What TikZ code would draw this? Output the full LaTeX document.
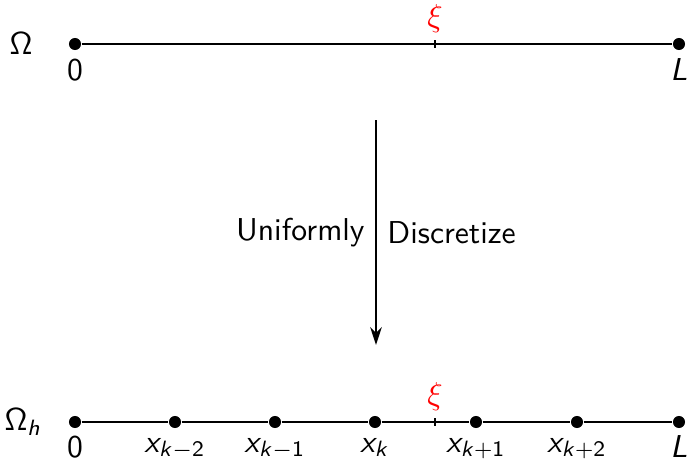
\documentclass[tikz,border=0pt]{standalone}
\usetikzlibrary{positioning, arrows.meta}
% sans serif math letters
\DeclareSymbolFont{operators}{OT1}{cmss}{m}{n}
\DeclareSymbolFont{sfit}{OT1}{cmss}{m}{sl}
\DeclareMathSymbol{x}{\mathalpha}{sfit}{`x}
\DeclareMathSymbol{k}{\mathalpha}{sfit}{`k}
\DeclareMathSymbol{h}{\mathalpha}{sfit}{`h}
\DeclareMathSymbol{L}{\mathalpha}{sfit}{`L}

\begin{document}
\begin{tikzpicture}[
  x=0.316pt, y=-0.316pt,
  font=\sffamily,
  pt/.style={circle, fill, inner sep=0pt, minimum size=3.8pt},
  lab/.style={anchor=base, inner sep=0pt},
  seg/.style={thick},
  tick/.style={semithick},
  arr/.style={-{Stealth[length=2mm, width=1.3mm]}, semithick}
 ]
\useasboundingbox (0,0) rectangle (687,459);
% continuous domain
\node (om) at (21,44) {$\Omega$};
\node[pt] (a0) at (75,44) {};
\node[pt] (aL) at (679,44) {};
\coordinate (xia) at (435,44);
\draw[seg] (a0) -- (aL);
\draw[tick] ([yshift=1.2pt]xia) -- ([yshift=-1.2pt]xia);
\node[lab] at (75,80) {$0$};
\node[lab] at (679,80) {$L$};
\node[red, above=0pt of xia] {$\xi$};
% discretize arrow
\coordinate (top) at (376,120);
\coordinate (bot) at (376,345);
\draw[arr] (top) -- (bot) node[midway, left] {Uniformly} node[midway, right] {Discretize};
% discrete domain
\node (omh) at (23,422) {$\Omega_h$};
\node[pt] (b0) at (75,422) {};
\node[pt] (b1) at (175,422) {};
\node[pt] (b2) at (275,422) {};
\node[pt] (b3) at (375,422) {};
\node[pt] (b4) at (476,422) {};
\node[pt] (b5) at (577,422) {};
\node[pt] (b6) at (679,422) {};
\coordinate (xib) at (435,422);
\draw[seg] (b0) -- (b1) -- (b2) -- (b3) -- (b4) -- (b5) -- (b6);
\draw[tick] ([yshift=1.2pt]xib) -- ([yshift=-1.2pt]xib);
\node[red, above=0pt of xib] {$\xi$};
\node[lab] at (75,457) {$0$};
\node[lab] at (175,452) {$x_{k-2}$};
\node[lab] at (275,452) {$x_{k-1}$};
\node[lab] at (375,452) {$x_k$};
\node[lab] at (476,452) {$x_{k+1}$};
\node[lab] at (577,452) {$x_{k+2}$};
\node[lab] at (679,457) {$L$};
\end{tikzpicture}
\end{document}
